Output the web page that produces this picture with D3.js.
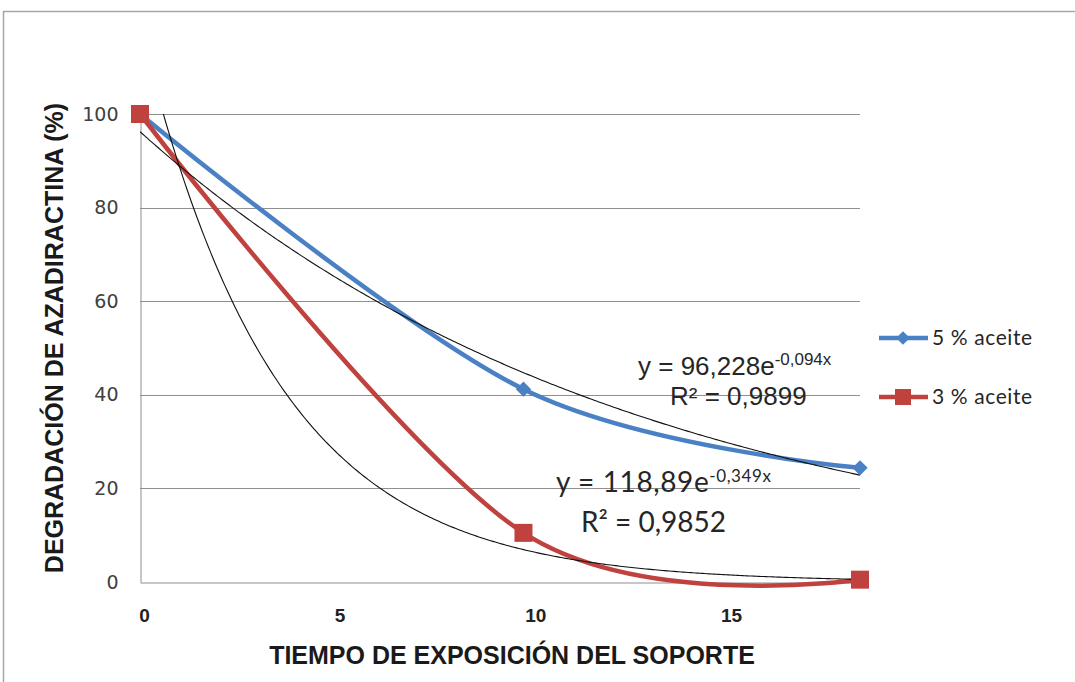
<!DOCTYPE html>
<html>
<head>
<meta charset="utf-8">
<script src="https://cdn.jsdelivr.net/npm/d3@7"></script>
<style>
  body { margin: 0; background: #fff; }
  svg { display: block; }
</style>
</head>
<body>
<svg id="chart" width="1075" height="682"></svg>
<script>
// Exposure time of the support and azadirachtin degradation (%)
const tiempo = [0, 9.8, 18.4];
const aceite5 = [100, 41.2, 24.4];
const aceite3 = [100, 10.5, 0.5];
const seriesNames = ["5 % aceite", "3 % aceite"];
const yTicks = [0, 20, 40, 60, 80, 100];
const xTicks = [0, 5, 10, 15];

// Exponential trendlines (coefficient, rate) and their labels
const trendCoef = [96.228, 118.89];
const trendRate = [-0.094, -0.349];
const trendEq = ["y = 96,228e", "y = 118,89e"];
const trendExp = ["-0,094x", "-0,349x"];
const trendR2 = ["R² = 0,9899", "R² = 0,9852"];
const trendSpan = [0, 15.3];

const colors = ["#4a80c4", "#c0423f"];

const svg = d3.select("#chart");
const W = 1075, H = 682;
const plot = { left: 140, right: 860, top: 114, bottom: 582 };

// outer frame
svg.append("rect")
  .attr("x", 3.5).attr("y", 11.5)
  .attr("width", W + 10).attr("height", H + 10)
  .attr("fill", "none").attr("stroke", "#a6a6a6").attr("stroke-width", 1.5);

const x = d3.scaleLinear().domain([tiempo[0], tiempo[tiempo.length - 1]]).range([plot.left, plot.right]);
const y = d3.scaleLinear().domain([0, 100]).range([plot.bottom, plot.top]);
const xt = d3.scaleLinear().domain(trendSpan).range([plot.left, plot.right]);

// gridlines
svg.append("g").selectAll("line").data(yTicks.filter(d => d > 0)).join("line")
  .attr("x1", plot.left).attr("x2", plot.right)
  .attr("y1", d => Math.round(y(d)) + 0.5).attr("y2", d => Math.round(y(d)) + 0.5)
  .attr("stroke", "#8f8f8f").attr("stroke-width", 1);

// axes
const yAxis = svg.append("g")
  .attr("transform", `translate(${plot.left + 0.5},0)`)
  .call(d3.axisLeft(y).tickValues(yTicks).tickSize(0).tickPadding(22));
yAxis.select(".domain").attr("stroke", "#8f8f8f");
yAxis.selectAll("text")
  .attr("font-family", "DejaVu Sans, Verdana, sans-serif")
  .attr("font-size", 19).attr("fill", "#404040");

const xAxis = svg.append("g")
  .attr("transform", `translate(0,${Math.round(plot.bottom) + 0.5})`)
  .call(d3.axisBottom(x).tickValues(xTicks).tickSize(0).tickPadding(26));
xAxis.select(".domain").attr("stroke", "#8f8f8f");
xAxis.selectAll("text")
  .attr("dx", 4)
  .attr("font-family", "Liberation Sans, Arial, sans-serif")
  .attr("font-weight", "bold")
  .attr("font-size", 19).attr("fill", "#222");

// axis titles
svg.append("text")
  .attr("x", 512).attr("y", 664)
  .attr("text-anchor", "middle")
  .attr("font-family", "Liberation Sans, Arial, sans-serif")
  .attr("font-weight", "bold").attr("font-size", 25).attr("fill", "#1a1a1a")
  .text("TIEMPO DE EXPOSICIÓN DEL SOPORTE");

svg.append("text")
  .attr("transform", "translate(63,338) rotate(-90)")
  .attr("text-anchor", "middle")
  .attr("font-family", "Liberation Sans, Arial, sans-serif")
  .attr("font-weight", "bold").attr("font-size", 25).attr("fill", "#1a1a1a")
  .text("DEGRADACIÓN DE AZADIRACTINA (%)");

// clipping for the trendlines
svg.append("clipPath").attr("id", "plotClip")
  .append("rect")
  .attr("x", plot.left).attr("y", plot.top)
  .attr("width", plot.right - plot.left).attr("height", plot.bottom - plot.top);

const series = [aceite5, aceite3];

// smoothed series lines
const line = d3.line()
  .x((d, i) => x(tiempo[i]))
  .y(d => y(d))
  .curve(d3.curveCardinal.tension(0));

series.forEach((vals, s) => {
  svg.append("path")
    .datum(vals)
    .attr("d", line)
    .attr("fill", "none")
    .attr("stroke", colors[s])
    .attr("stroke-width", 4.5)
    .attr("stroke-linejoin", "round")
    .attr("stroke-linecap", "round");
});

// trendlines from their fitted equations
const trendLine = d3.line().x(d => xt(d[0])).y(d => y(d[1]));
trendCoef.forEach((a, s) => {
  const pts = d3.range(trendSpan[0], trendSpan[1] + 0.001, 0.05)
    .map(t => [t, a * Math.exp(trendRate[s] * t)]);
  svg.append("path")
    .datum(pts)
    .attr("clip-path", "url(#plotClip)")
    .attr("d", trendLine)
    .attr("fill", "none")
    .attr("stroke", "#111")
    .attr("stroke-width", 1.1);
});

// markers
const diamond = d3.symbol().type(d3.symbolDiamond2).size(150);
svg.append("g").selectAll("path").data(aceite5).join("path")
  .attr("transform", (d, i) => `translate(${x(tiempo[i])},${y(d)})`)
  .attr("d", diamond)
  .attr("fill", colors[0]);

svg.append("g").selectAll("rect").data(aceite3).join("rect")
  .attr("x", (d, i) => x(tiempo[i]) - 9).attr("y", d => y(d) - 9)
  .attr("width", 18).attr("height", 18)
  .attr("fill", colors[1]);

// legend
const legendY = [338, 397];
seriesNames.forEach((name, s) => {
  const g = svg.append("g").attr("transform", `translate(879,${legendY[s]})`);
  g.append("line").attr("x1", 0).attr("x2", 49)
    .attr("stroke", colors[s]).attr("stroke-width", 4.5);
  if (s === 0) {
    g.append("path").attr("transform", "translate(24,0)")
      .attr("d", d3.symbol().type(d3.symbolDiamond2).size(120))
      .attr("fill", colors[s]);
  } else {
    g.append("rect").attr("x", 16).attr("y", -8).attr("width", 16).attr("height", 16)
      .attr("fill", colors[s]);
  }
  g.append("text").attr("x", 53).attr("y", 7)
    .attr("font-family", "Lato, Open Sans, sans-serif")
    .attr("font-size", 21).attr("letter-spacing", 0.6).attr("fill", "#262626")
    .text(name);
});

// trendline equation labels
const eqPos = [[638, 375, 670, 405], [556, 492, 581, 532]];
const eqFont = ["Liberation Sans, Arial, sans-serif", "Lato, Open Sans, sans-serif"];
const eqSize = [26, 28];
const expSize = [17, 17];
const eqSpacing = [0, 0.6];
trendEq.forEach((eq, s) => {
  const [ex, ey, rx, ry] = eqPos[s];
  const t = svg.append("text")
    .attr("x", ex).attr("y", ey)
    .attr("font-family", eqFont[s])
    .attr("letter-spacing", eqSpacing[s])
    .attr("font-size", eqSize[s]).attr("fill", "#262626");
  t.append("tspan").text(eq);
  t.append("tspan").attr("dy", -10).attr("font-size", expSize[s]).text(trendExp[s]);
  svg.append("text")
    .attr("x", rx).attr("y", ry)
    .attr("font-family", eqFont[s])
    .attr("font-size", eqSize[s]).attr("fill", "#262626")
    .text(trendR2[s]);
});
</script>
</body>
</html>
